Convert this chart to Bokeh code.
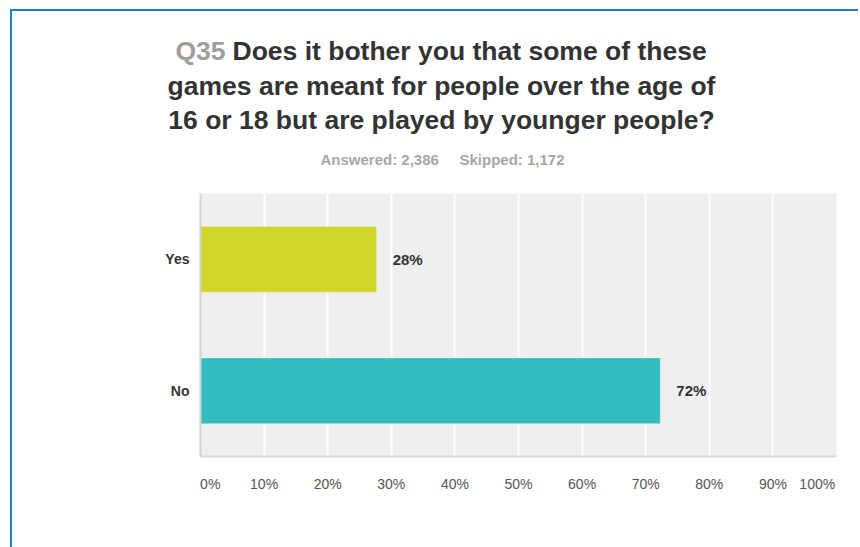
from bokeh.plotting import figure
from bokeh.models import Range1d, FactorRange, FixedTicker, ColumnDataSource
from bokeh.core.properties import value
from bokeh.embed import file_html
from bokeh.resources import INLINE

# ---- data ----
categories = ["Yes", "No"]
percents = [27.7, 72.3]
value_labels = ["28%", "72%"]
bar_colors = ["#d0d62a", "#33bdbf"]
tick_values = [0, 10, 20, 30, 40, 50, 60, 70, 80, 90, 100]
tick_labels = ["0%", "10%", "20%", "30%", "40%", "50%", "60%", "70%", "80%", "90%", "100%"]
title_prefix = "Q35"
title_lines = ["Does it bother you that some of these",
               "games are meant for people over the age of",
               "16 or 18 but are played by younger people?"]
answered = "Answered: 2,386"
skipped = "Skipped: 1,172"

FONT = "Liberation Sans"

# page geometry (absolute px)
TOP_MARGIN, LEFT_MARGIN, BW = 9, 10, 2
ORG_X, ORG_Y = LEFT_MARGIN + BW, TOP_MARGIN + BW   # content origin inside blue border
W = 848
SPLIT = 180                    # boundary between header and chart canvases
BOTTOM = 547
FL, FR, FT, FB = 200, 836, 193, 456   # chart frame
BORDER = f"{BW}px solid #1b7fd0"

# ---- header figure (title & subtitle) ----
hdr = figure(width=W, height=SPLIT - TOP_MARGIN, output_backend="svg", toolbar_location=None,
             x_range=Range1d(ORG_X, ORG_X + W), y_range=Range1d(SPLIT, ORG_Y),
             x_axis_type=None, y_axis_type=None, min_border=0)
hdr.outline_line_color = None
hdr.background_fill_color = "white"
hdr.border_fill_color = "white"
hdr.xgrid.visible = False
hdr.ygrid.visible = False
hdr.styles = {"margin-left": f"{LEFT_MARGIN}px", "margin-top": f"{TOP_MARGIN}px",
              "border-left": BORDER, "border-top": BORDER}

def htext(text, ax, ay, color, size, align="left"):
    hdr.text(x=[ax], y=[ay], text=[text], text_align=align, text_baseline="alphabetic",
             text_font=value(FONT), text_font_style="bold", text_font_size=size,
             text_color=color)

htext(title_prefix, 175, 50, "#9e9e9e", "26.5px")
htext(title_lines[0], 232, 50, "#333333", "26.5px")
htext(title_lines[1], 441, 84.5, "#333333", "26.5px", align="center")
htext(title_lines[2], 441, 118, "#333333", "26.5px", align="center")
htext(answered, 320, 157, "#a6a6a6", "15px")
htext(skipped, 459, 157, "#a6a6a6", "15px")

# ---- chart figure ----
p = figure(width=W, height=BOTTOM - SPLIT, output_backend="svg", toolbar_location=None,
           x_range=Range1d(0, 100), y_range=FactorRange(*categories[::-1]),
           min_border_left=FL - ORG_X, min_border_right=ORG_X + W - FR,
           min_border_top=FT - SPLIT, min_border_bottom=BOTTOM - FB)
p.background_fill_color = "#efefef"
p.border_fill_color = "white"
p.outline_line_color = None
p.styles = {"margin-left": f"{LEFT_MARGIN}px", "border-left": BORDER}

src = ColumnDataSource(dict(cat=categories, pct=percents, lab=value_labels, col=bar_colors))
p.hbar(y="cat", right="pct", left=0, height=0.5, fill_color="col",
       line_color="white", line_alpha=0.35, line_width=1, source=src)
p.text(x="pct", y="cat", text="lab", source=src, x_offset=16,
       text_baseline="middle", text_align="left", text_font=value(FONT),
       text_font_style="bold", text_font_size="15px", text_color="#333333")

# first label sits right of its tick, last label ends at the frame edge
NB = "\u00a0"
overrides = {t: l for t, l in zip(tick_values, tick_labels)}
overrides[tick_values[0]] = NB * 5 + tick_labels[0]
overrides[tick_values[-1]] = tick_labels[-1] + NB * 6

xa = p.xaxis[0]
xa.ticker = FixedTicker(ticks=tick_values)
xa.major_label_overrides = overrides
xa.axis_line_color = "#dadada"
xa.axis_line_width = 2
xa.major_tick_line_color = None
xa.minor_tick_line_color = None
xa.major_tick_in = 0
xa.major_tick_out = 0
xa.major_label_standoff = 19
xa.major_label_text_font = FONT
xa.major_label_text_font_size = "14px"
xa.major_label_text_color = "#555555"

ya = p.yaxis[0]
ya.axis_line_color = "#d4d4d4"
ya.axis_line_width = 2
ya.major_tick_line_color = None
ya.minor_tick_line_color = None
ya.major_tick_in = 0
ya.major_tick_out = 0
ya.major_label_standoff = 11
ya.major_label_text_font = FONT
ya.major_label_text_font_style = "bold"
ya.major_label_text_font_size = "14px"
ya.major_label_text_color = "#333333"

p.xgrid.grid_line_color = "white"
p.xgrid.grid_line_width = 2
p.ygrid.grid_line_color = None

open("out.html", "w").write(file_html([hdr, p], INLINE))
